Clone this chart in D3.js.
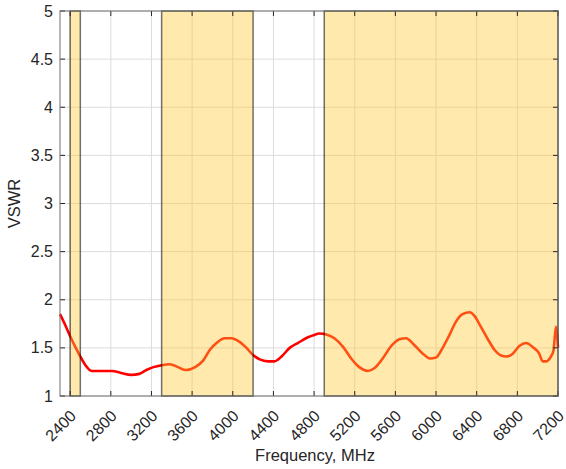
<!DOCTYPE html>
<html>
<head>
<meta charset="utf-8">
<script src="https://cdn.jsdelivr.net/npm/d3@7"></script>
<style>
  body { margin: 0; background: #fff; }
  svg text { font-family: "Liberation Sans", Arial, sans-serif; fill: #262626; }
</style>
</head>
<body>
<div id="chart"></div>
<script>
const freq = [2300, 2350, 2400, 2450, 2500, 2550, 2610, 2710, 2810, 2900, 3000, 3080, 3150, 3220,
  3300, 3380, 3460, 3540, 3630, 3710, 3775, 3840, 3920, 3985, 4070, 4135, 4195, 4265, 4345,
  4410, 4480, 4560, 4640, 4740, 4790, 4855, 4920, 5000, 5085, 5165, 5245, 5330, 5395, 5475,
  5560, 5640, 5705, 5785, 5870, 5940, 6000, 6065, 6130, 6195, 6260, 6330, 6380, 6440, 6510,
  6575, 6640, 6690, 6755, 6820, 6885, 6950, 7015, 7050, 7080, 7130, 7155, 7180, 7200]
const vswr = [1.85, 1.74, 1.62, 1.51, 1.41, 1.32, 1.26, 1.26, 1.26, 1.24, 1.22, 1.23, 1.27, 1.30,
  1.32, 1.33, 1.30, 1.27, 1.30, 1.37, 1.48, 1.55, 1.60, 1.60, 1.56, 1.50, 1.43, 1.38, 1.36,
  1.36, 1.41, 1.50, 1.55, 1.61, 1.63, 1.65, 1.64, 1.60, 1.51, 1.39, 1.30, 1.26, 1.29, 1.39,
  1.52, 1.59, 1.60, 1.53, 1.44, 1.39, 1.40, 1.50, 1.63, 1.77, 1.85, 1.87, 1.83, 1.72, 1.59,
  1.48, 1.42, 1.41, 1.44, 1.52, 1.55, 1.51, 1.44, 1.36, 1.36, 1.41, 1.47, 1.72, 1.50]

// shaded frequency bands
const bandStart = [2400, 3300, 4900]
const bandEnd = [2500, 4200, 7200]

const xTicks = d3.range(2400, 7201, 400)
const yTicks = [1, 1.5, 2, 2.5, 3, 3.5, 4, 4.5, 5]

const width = 566
const height = 469
const margin = {top: 11, right: 8, bottom: 73, left: 60}
const innerW = width - margin.left - margin.right
const innerH = height - margin.top - margin.bottom

const x = d3.scaleLinear().domain([2300, 7200]).range([0, innerW])
const y = d3.scaleLinear().domain([1, 5]).range([innerH, 0])

const svg = d3.select('#chart').append('svg')
  .attr('width', width)
  .attr('height', height)

const g = svg.append('g')
  .attr('transform', `translate(${margin.left}, ${margin.top})`)

// grid
g.append('g').selectAll('line').data(xTicks).enter().append('line')
  .attr('x1', d => x(d)).attr('x2', d => x(d))
  .attr('y1', 0).attr('y2', innerH)
  .attr('stroke', '#dcdcdc').attr('stroke-width', 1)
g.append('g').selectAll('line').data(yTicks).enter().append('line')
  .attr('x1', 0).attr('x2', innerW)
  .attr('y1', d => y(d)).attr('y2', d => y(d))
  .attr('stroke', '#dcdcdc').attr('stroke-width', 1)

// curve
const points = freq.map((f, i) => [f, vswr[i]])
const line = d3.line()
  .x(d => x(d[0]))
  .y(d => y(d[1]))
  .curve(d3.curveMonotoneX)

g.append('path')
  .datum(points)
  .attr('d', line)
  .attr('fill', 'none')
  .attr('stroke', '#ff0000')
  .attr('stroke-width', 2.6)
  .attr('stroke-linejoin', 'round')

// bands sit on top, semi transparent
g.append('g').selectAll('rect').data(bandStart).enter().append('rect')
  .attr('x', (d) => x(d))
  .attr('y', 0)
  .attr('width', (d, i) => x(bandEnd[i]) - x(d))
  .attr('height', innerH)
  .attr('fill', 'rgb(255,200,50)')
  .attr('fill-opacity', 0.4)
  .attr('stroke', 'rgba(0,0,0,0.55)')
  .attr('stroke-width', 1.5)

// axes with inward ticks on all four sides
const tickLen = 5
const ticksG = g.append('g').attr('stroke', '#262626').attr('stroke-width', 1)
xTicks.forEach(t => {
  ticksG.append('line').attr('x1', x(t)).attr('x2', x(t)).attr('y1', innerH).attr('y2', innerH - tickLen)
  ticksG.append('line').attr('x1', x(t)).attr('x2', x(t)).attr('y1', 0).attr('y2', tickLen)
})
yTicks.forEach(t => {
  ticksG.append('line').attr('x1', 0).attr('x2', tickLen).attr('y1', y(t)).attr('y2', y(t))
  ticksG.append('line').attr('x1', innerW).attr('x2', innerW - tickLen).attr('y1', y(t)).attr('y2', y(t))
})

g.append('rect')
  .attr('x', 0).attr('y', 0)
  .attr('width', innerW).attr('height', innerH)
  .attr('fill', 'none')
  .attr('stroke', '#6e6e6e')
  .attr('stroke-width', 1)

// tick labels
g.append('g').selectAll('text').data(xTicks).enter().append('text')
  .attr('transform', d => `translate(${x(d) + 3}, ${innerH + 17}) rotate(-45)`)
  .attr('text-anchor', 'end')
  .attr('dy', '0.35em')
  .style('font-size', '16px')
  .text(d => d)

g.append('g').selectAll('text').data(yTicks).enter().append('text')
  .attr('x', -7)
  .attr('y', d => y(d))
  .attr('dy', '0.35em')
  .attr('text-anchor', 'end')
  .style('font-size', '16px')
  .text(d => d)

// axis titles
svg.append('text')
  .attr('x', margin.left + innerW / 2 + 6)
  .attr('y', 461)
  .attr('text-anchor', 'middle')
  .style('font-size', '16.5px')
  .text('Frequency, MHz')

svg.append('text')
  .attr('transform', `translate(20, ${margin.top + innerH / 2}) rotate(-90)`)
  .attr('text-anchor', 'middle')
  .style('font-size', '16.5px')
  .text('VSWR')
</script>
</body>
</html>
